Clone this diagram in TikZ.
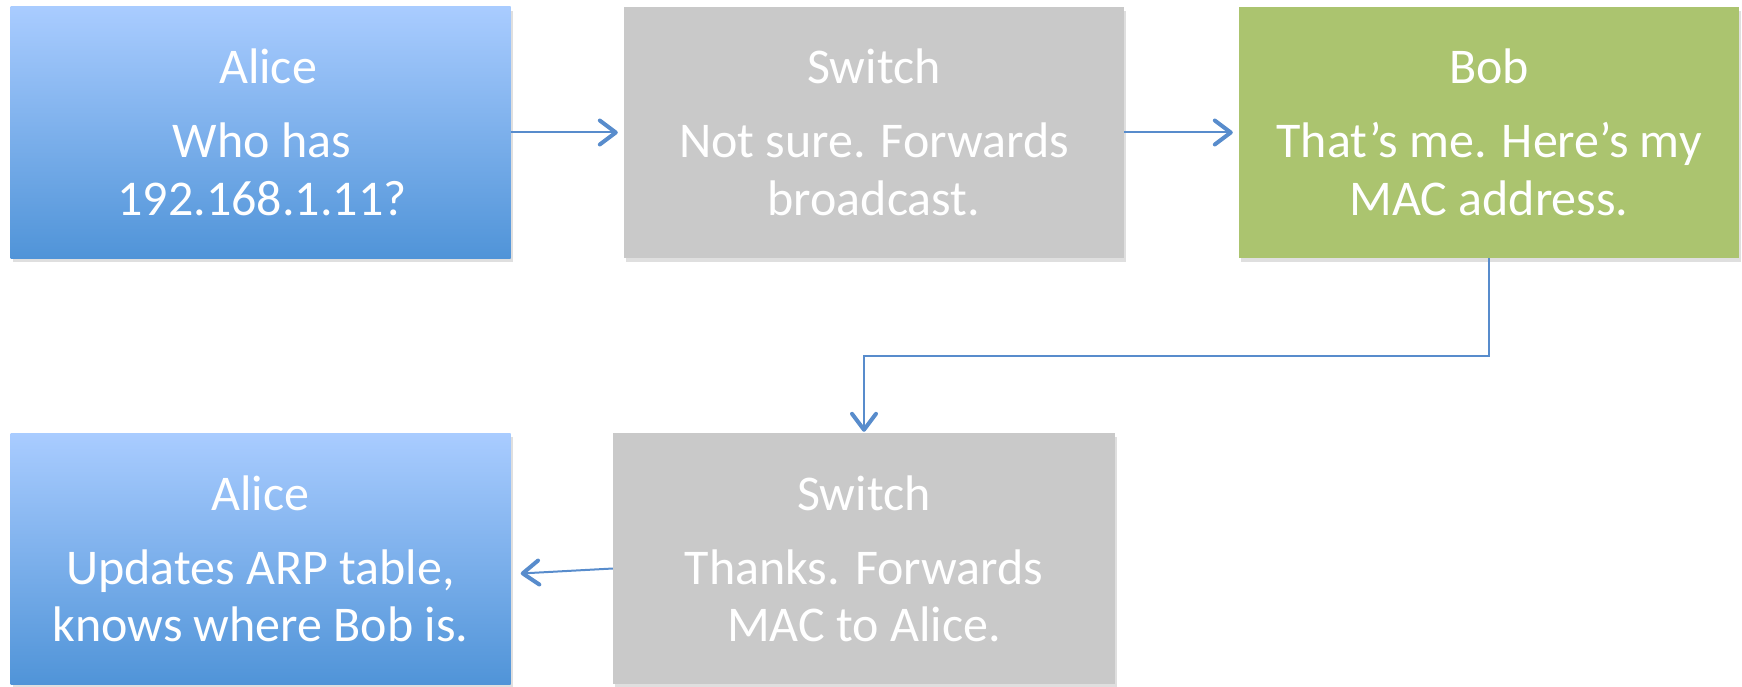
\documentclass[tikz,border=0pt]{standalone}
\usepackage{fontspec}
\setmainfont{Carlito}
\usetikzlibrary{arrows.meta,shadows}
\definecolor{alicetop}{RGB}{169,204,255}
\definecolor{alicebot}{RGB}{80,148,216}
\definecolor{switchgray}{RGB}{201,201,201}
\definecolor{bobgreen}{RGB}{171,196,111}
\definecolor{arrowblue}{RGB}{88,140,204}
\begin{document}
\begin{tikzpicture}[x=1pt,y=-1pt,
  box/.style={minimum width=500pt, minimum height=251pt, inner sep=0pt, draw=none,
    drop shadow={opacity=0.25, shadow xshift=2pt, shadow yshift=-4pt}},
  alicebox/.style={box, top color=alicetop, bottom color=alicebot},
  switchbox/.style={box, fill=switchgray},
  bobbox/.style={box, fill=bobgreen},
  txt/.style={text=white, font=\fontsize{50}{60}\selectfont, anchor=base, inner sep=0pt},
  conn/.style={draw=arrowblue, line width=2pt,
    -{Straight Barb[length=16pt,width=24pt,line width=4pt,round]}}
]
\useasboundingbox (0,0) rectangle (1742,687);
% boxes
\node[alicebox]  (a1) at (260.5,132.5) {};
\node[switchbox] (s1) at (874,132.5) {};
\node[bobbox]    (b)  at (1489,132.5) {};
\node[switchbox, minimum width=502pt] (s2) at (864,558.5) {};
\node[alicebox]  (a2) at (260.5,558.5) {};
% texts
\node[txt] (a1t)  at (268,84)  {Alice};
\node[txt] (a1l1) at (262,158) {Who has};
\node[txt] (a1l2) at (262,215) {192.168.1.11?};
\node[txt] (s1t)  at (874,84)  {Switch};
\node[txt] (s1l1) at (874,158) {Not sure. Forwards};
\node[txt] (s1l2) at (874,215) {broadcast.};
\node[txt] (bt)   at (1489,84)  {Bob};
\node[txt] (bl1)  at (1489,158) {That’s me. Here’s my};
\node[txt] (bl2)  at (1489,215) {MAC address.};
\node[txt] (s2t)  at (864,510) {Switch};
\node[txt] (s2l1) at (864,584) {Thanks. Forwards};
\node[txt] (s2l2) at (864,641) {MAC to Alice.};
\node[txt] (a2t)  at (260.5,510) {Alice};
\node[txt] (a2l1) at (260.5,584) {Updates ARP table,};
\node[txt] (a2l2) at (260.5,641) {knows where Bob is.};
% connectors
\draw[conn, shorten >=6pt] (a1) -- (s1);
\draw[conn, shorten >=6pt] (s1) -- (b);
\coordinate (elbow) at (1489,356);
\draw[conn, shorten >=1pt] (b.south) -- (elbow) -| (s2.north);
\draw[conn] ([yshift=-10pt]s2.west) -- ([xshift=10pt,yshift=-15pt]a2.east);
\end{tikzpicture}
\end{document}
